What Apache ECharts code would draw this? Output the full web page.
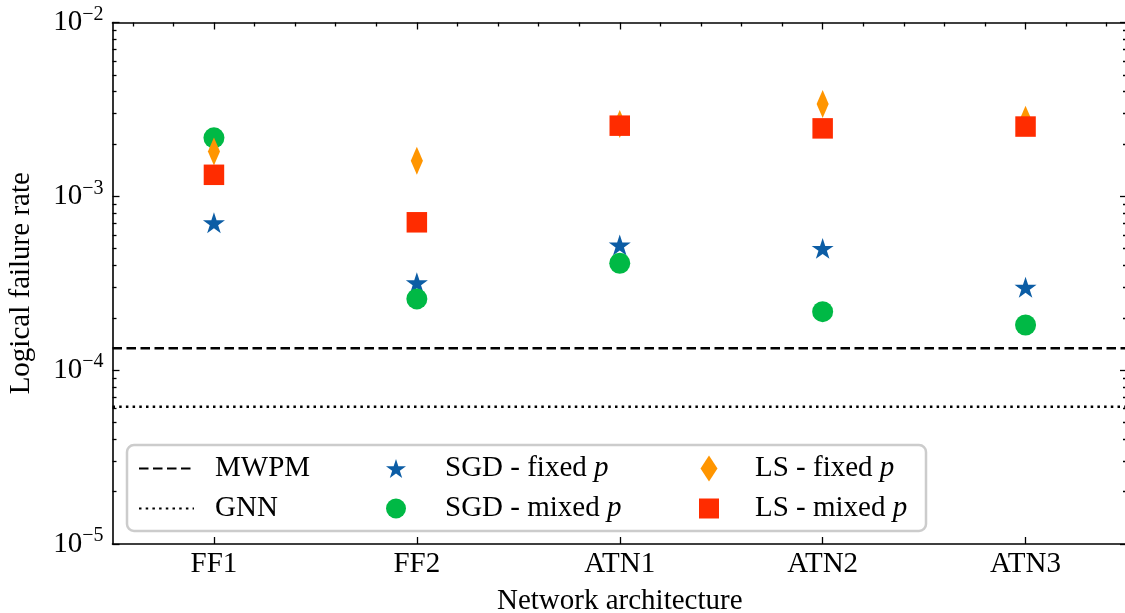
<!DOCTYPE html>
<html><head><meta charset="utf-8">
<script src="https://cdn.jsdelivr.net/npm/echarts@6/dist/echarts.min.js"></script>
<style>html,body{margin:0;padding:0;background:#fff}#c{width:1125px;height:613px}</style>
</head><body><div id="c"></div>
<script>
// ---- data ----
const categories = ['FF1', 'FF2', 'ATN1', 'ATN2', 'ATN3'];
const sgdFixed = [7.05e-4, 3.18e-4, 5.25e-4, 5.02e-4, 3.00e-4];
const sgdMixed = [2.17e-3, 2.57e-4, 4.12e-4, 2.17e-4, 1.82e-4];
const lsFixed  = [1.81e-3, 1.60e-3, 2.61e-3, 3.40e-3, 2.76e-3];
const lsMixed  = [1.33e-3, 7.09e-4, 2.55e-3, 2.46e-3, 2.52e-3];
const mwpmRate = 1.335e-4;
const gnnRate  = 6.16e-5;
const yDecades = [-5, -4, -3, -2];

// ---- styling ----
const FONT = "'Liberation Serif', 'DejaVu Serif', serif";
const FS = 29;
const STAR = 'path://M0,-100L22.45,-30.9L95.11,-30.9L36.33,11.8L58.78,80.9L0,38.2L-58.78,80.9L-36.33,11.8L-95.11,-30.9L-22.45,-30.9Z';
const DIAMOND = 'path://M0,-13L8.5,0L0,13L-8.5,0Z';
const SQUARE = 'path://M-10,-10L10,-10L10,10L-10,10Z';
const C_BLUE = '#0C5DA5', C_GREEN = '#00B945', C_ORANGE = '#FF9500', C_RED = '#FF2C00';

const xMin = -0.5, xMax = categories.length - 0.5;
const yMin = Math.pow(10, yDecades[0]), yMax = Math.pow(10, yDecades[yDecades.length - 1]);
const minorY = [];
for (let e = yDecades[0]; e < yDecades[yDecades.length - 1]; e++)
  for (let k = 2; k <= 9; k++) minorY.push(e + Math.log10(k));
const minorX = [];
for (let i = -2; i <= 5 * (categories.length - 1) + 2; i++) if (i % 5 !== 0) minorX.push(i / 5);

const tickLineStyle = { color: '#000', width: 1.3 };
const axisLineStyle = { color: '#000', width: 1.6 };

const legendText = {
  fontFamily: FONT, fontSize: FS, color: '#000',
  rich: { i: { fontFamily: FONT, fontSize: FS, fontStyle: 'italic', color: '#000' } }
};
const fmtLegend = n => n.replace(/ p$/, ' {i|p}');

const option = {
  animation: false,
  backgroundColor: '#fff',
  grid: { left: 112.5, width: 1014.5, top: 22.5, bottom: 69, containLabel: false, outerBoundsMode: 'none' },
  graphic: [{
    type: 'rect', z: 3, silent: true,
    shape: { x: 127, y: 445, width: 799, height: 86, r: 7 },
    style: { fill: 'rgba(255,255,255,0.85)', stroke: '#cccccc', lineWidth: 2.5 }
  }],
  legend: [
    { z: 5, left: 138, top: 454, padding: 0, orient: 'vertical', selectedMode: false,
      itemWidth: 55, itemHeight: 20, itemGap: 11,
      itemStyle: { color: 'rgba(0,0,0,0)', borderWidth: 0, opacity: 0 },
      data: ['MWPM', 'GNN'], formatter: fmtLegend,
      textStyle: Object.assign({ padding: [0, 0, 0, 16] }, legendText) },
    { z: 5, left: 386, top: 454, padding: 0, orient: 'vertical', selectedMode: false,
      itemWidth: 20, itemHeight: 20, itemGap: 11,
      data: ['SGD - fixed p', 'SGD - mixed p'], formatter: fmtLegend,
      textStyle: Object.assign({ padding: [0, 0, 0, 34] }, legendText) },
    { z: 5, left: 699, top: 454, padding: 0, orient: 'vertical', selectedMode: false,
      itemWidth: 20, itemHeight: 26, itemGap: 11,
      data: ['LS - fixed p', 'LS - mixed p'], formatter: fmtLegend,
      textStyle: Object.assign({ padding: [0, 0, 0, 31] }, legendText) }
  ],
  xAxis: [
    { type: 'category', data: categories, position: 'bottom', boundaryGap: true,
      name: 'Network architecture', nameLocation: 'middle', nameGap: 43,
      nameTextStyle: { fontFamily: FONT, fontSize: FS, color: '#000' },
      axisLine: { show: true, onZero: false, lineStyle: axisLineStyle },
      axisTick: { show: true, inside: true, alignWithLabel: true, length: 7, lineStyle: tickLineStyle },
      axisLabel: { fontFamily: FONT, fontSize: FS, color: '#000', margin: 6 },
      splitLine: { show: false } },
    { type: 'category', data: categories, position: 'top', boundaryGap: true,
      axisLine: { show: true, onZero: false, lineStyle: axisLineStyle },
      axisTick: { show: true, inside: true, alignWithLabel: true, length: 7, lineStyle: tickLineStyle },
      axisLabel: { show: false }, splitLine: { show: false } },
    { type: 'value', position: 'top', min: xMin, max: xMax,
      axisLine: { show: false, onZero: false },
      axisTick: { show: true, inside: true, length: 4, lineStyle: tickLineStyle, customValues: minorX },
      axisLabel: { show: false }, splitLine: { show: false } }
  ],
  yAxis: [
    { type: 'log', logBase: 10, min: yMin, max: yMax, position: 'left',
      name: 'Logical failure rate', nameLocation: 'middle', nameGap: 77, nameRotate: 90,
      nameTextStyle: { fontFamily: FONT, fontSize: FS, color: '#000' },
      axisLine: { show: true, onZero: false, lineStyle: axisLineStyle },
      axisTick: { show: true, inside: true, length: 7, lineStyle: tickLineStyle },
      axisLabel: {
        margin: 9, color: '#000',
        formatter: v => '{b|10}{s|\u2212' + Math.abs(Math.round(Math.log10(v))) + '}',
        rich: {
          b: { fontFamily: FONT, fontSize: FS, color: '#000' },
          s: { fontFamily: FONT, fontSize: 20, color: '#000', padding: [0, 0, 16, 0] }
        }
      },
      splitLine: { show: false } },
    { type: 'value', position: 'left', min: yDecades[0], max: yDecades[yDecades.length - 1],
      axisLine: { show: false, onZero: false },
      axisTick: { show: true, inside: true, length: 4, lineStyle: tickLineStyle, customValues: minorY },
      axisLabel: { show: false }, splitLine: { show: false } },
    { type: 'value', position: 'right', min: yDecades[0], max: yDecades[yDecades.length - 1],
      axisLine: { show: false, onZero: false },
      axisTick: { show: true, inside: true, length: 7, lineStyle: tickLineStyle, customValues: yDecades },
      axisLabel: { show: false }, splitLine: { show: false } },
    { type: 'value', position: 'right', min: yDecades[0], max: yDecades[yDecades.length - 1],
      axisLine: { show: false, onZero: false },
      axisTick: { show: true, inside: true, length: 4, lineStyle: tickLineStyle, customValues: minorY },
      axisLabel: { show: false }, splitLine: { show: false } }
  ],
  series: [
    { name: 'MWPM', type: 'line', xAxisIndex: 2, yAxisIndex: 0,
      data: [[xMin, mwpmRate], [xMax, mwpmRate]],
      symbol: 'none', showSymbol: false, silent: true,
      itemStyle: { color: '#000' },
      lineStyle: { color: '#000', width: 2.5, type: [9.5, 4.5] } },
    { name: 'GNN', type: 'line', xAxisIndex: 2, yAxisIndex: 0,
      data: [[xMin, gnnRate], [xMax, gnnRate]],
      symbol: 'none', showSymbol: false, silent: true,
      itemStyle: { color: '#000' },
      lineStyle: { color: '#000', width: 2.5, type: [2.5, 4.2] } },
    { name: 'SGD - fixed p', type: 'scatter', data: sgdFixed, symbol: STAR, symbolSize: 22,
      symbolKeepAspect: true, itemStyle: { color: C_BLUE, opacity: 1 } },
    { name: 'SGD - mixed p', type: 'scatter', data: sgdMixed, symbol: 'circle', symbolSize: 21,
      itemStyle: { color: C_GREEN, opacity: 1 } },
    { name: 'LS - fixed p', type: 'scatter', data: lsFixed, symbol: DIAMOND, symbolSize: [18.5, 28],
      symbolKeepAspect: true, itemStyle: { color: C_ORANGE, opacity: 1 } },
    { name: 'LS - mixed p', type: 'scatter', data: lsMixed, symbol: SQUARE, symbolSize: 20.5,
      symbolKeepAspect: true, itemStyle: { color: C_RED, opacity: 1 } }
  ]
};
const chart = echarts.init(document.getElementById('c'), null, { renderer: 'canvas' });
chart.setOption(option);
</script></body></html>
